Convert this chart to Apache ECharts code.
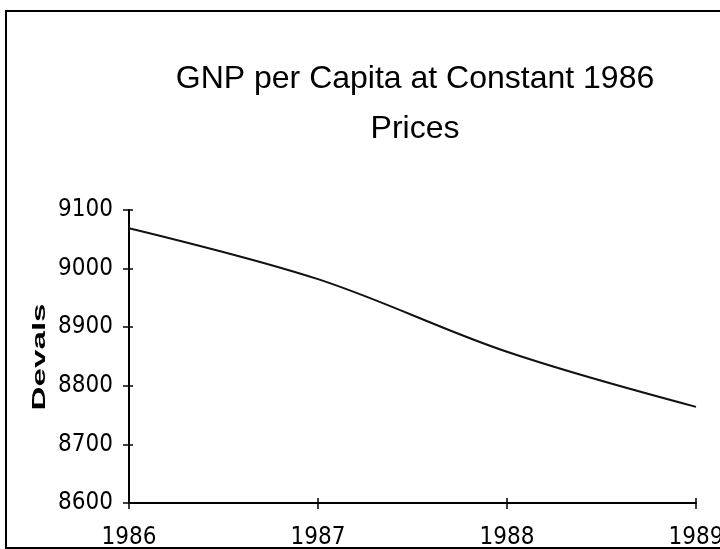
<!DOCTYPE html>
<html>
<head>
<meta charset="utf-8">
<script src="https://cdn.jsdelivr.net/npm/echarts@6/dist/echarts.min.js"></script>
<style>
  html, body { margin: 0; padding: 0; background: #fff; }
  #chart { width: 720px; height: 549px; }
</style>
</head>
<body>
<div id="chart"></div>
<script>
// data
let years = ['1986', '1987', '1988', '1989']
let gnp = [9069, 8982, 8858, 8764]
let yMin = 8600
let yMax = 9100
let yStep = 100

let narrow = '"Liberation Sans Narrow", "DejaVu Sans Condensed", "DejaVu Sans", sans-serif'
// outerBoundsMode none: let the 1989 label run off the right edge like the original
let gridBox = { left: 129, right: 24, top: 210, bottom: 46, outerBoundsMode: 'none' }

let myChart = echarts.init(document.getElementById('chart'))
let option = {
  animation: false,
  backgroundColor: '#fff',
  title: {
    text: 'GNP per Capita at Constant 1986\nPrices',
    left: 410,
    top: 49,
    textAlign: 'center',
    textStyle: {
      fontFamily: '"Liberation Sans", Arial, sans-serif',
      fontWeight: 'normal',
      fontSize: 32,
      lineHeight: 50,
      color: '#000'
    }
  },
  // two identical grids: the second only carries the inner half of the ticks
  grid: [
    Object.assign({}, gridBox),
    Object.assign({}, gridBox)
  ],
  xAxis: [
    {
      type: 'category',
      gridIndex: 0,
      data: years,
      boundaryGap: false,
      axisLine: { lineStyle: { color: '#000', width: 2 } },
      axisTick: { alignWithLabel: true, length: 6, lineStyle: { color: '#000', width: 1.5 } },
      axisLabel: { color: '#000', fontFamily: narrow, fontSize: 24, margin: 23 },
      splitLine: { show: false }
    },
    {
      type: 'category',
      gridIndex: 1,
      data: years,
      boundaryGap: false,
      axisLine: { show: false },
      axisTick: { inside: true, length: 5, lineStyle: { color: '#000', width: 1.5 } },
      axisLabel: { show: false },
      splitLine: { show: false }
    }
  ],
  yAxis: [
    {
      type: 'value',
      gridIndex: 0,
      min: yMin,
      max: yMax,
      interval: yStep,
      axisLine: { show: true, lineStyle: { color: '#000', width: 2 } },
      axisTick: { show: true, length: 6, lineStyle: { color: '#000', width: 1.5 } },
      axisLabel: {
        color: '#000', fontFamily: narrow, fontSize: 24, margin: 16,
        formatter: function (v) { return String(v) }
      },
      splitLine: { show: false }
    },
    {
      type: 'value',
      gridIndex: 1,
      min: yMin,
      max: yMax,
      interval: yStep,
      axisLine: { show: false },
      axisTick: { show: true, inside: true, length: 4, lineStyle: { color: '#000', width: 1.5 } },
      axisLabel: { show: false },
      splitLine: { show: false }
    }
  ],
  series: [
    {
      name: 'GNP per Capita',
      type: 'line',
      xAxisIndex: 0,
      yAxisIndex: 0,
      data: gnp,
      smooth: 0.35,
      symbol: 'none',
      lineStyle: { color: '#111', width: 2 }
    }
  ],
  graphic: [
    {
      type: 'rect',
      silent: true,
      shape: { x: 6, y: 11, width: 730, height: 537 },
      style: { fill: 'none', stroke: '#000', lineWidth: 2 }
    },
    {
      type: 'text',
      silent: true,
      x: 40,
      y: 357,
      rotation: Math.PI / 2,
      scaleX: 1.75,
      style: {
        text: 'Devals',
        font: 'bold 19px "Liberation Sans", Arial, sans-serif',
        fill: '#000',
        align: 'center',
        verticalAlign: 'middle'
      }
    }
  ]
}
myChart.setOption(option)
</script>
</body>
</html>
